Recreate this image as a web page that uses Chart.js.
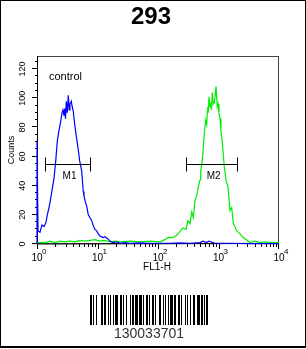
<!DOCTYPE html>
<html>
<head>
<meta charset="utf-8">
<script src="https://cdn.jsdelivr.net/npm/chart.js@4.4.1/dist/chart.umd.min.js"></script>
<style>
  html, body { margin: 0; padding: 0; background: #fff; }
  canvas { display: block; }
</style>
</head>
<body>
<canvas id="flow" width="306" height="349"></canvas>
<script>
// FL1-H channel values and counts
const blueX = [1.0, 1.0, 1.04, 1.12, 1.21, 1.31, 1.41, 1.48, 1.58, 1.68, 1.79, 1.91, 2.04, 2.17, 2.31, 2.46, 2.59, 2.69, 2.79, 2.87, 2.96, 3.05, 3.17, 3.29, 3.41, 3.51, 3.69, 3.83, 3.98, 4.20, 4.46, 4.76, 5.08, 5.48, 5.82, 5.98, 6.29, 6.63, 7.04, 7.52, 8.02, 8.52, 9.09, 9.70, 10.3, 11.0, 12.3, 13.3, 14.9, 16.1, 18.0, 21.0, 23.5, 28.5, 34.5, 50.4, 73.8, 108, 158, 231, 338, 495, 555, 621, 697, 875, 1549, 3319, 10000];
const blueY = [0, 71, 9, 8, 13, 12, 15, 20, 25, 31, 38, 45, 57, 71, 78, 84, 90, 92, 88, 93, 86, 98, 90, 102, 92, 96, 98, 94, 91, 82, 74, 66, 57, 50, 36, 33, 29, 26, 20, 18, 16, 12.5, 10, 9, 7, 5.5, 4.4, 5, 3.5, 2, 1, 1.5, 0.5, 1, 0.5, 0.8, 0.5, 0.5, 0.5, 0.8, 0.5, 1, 2, 1, 2, 0.5, 0.5, 0.3, 0.3];

const greenX = [1.0, 1.36, 1.64, 1.98, 2.40, 2.90, 3.51, 4.25, 5.14, 6.22, 7.52, 9.09, 11.0, 13.3, 16.1, 19.4, 23.5, 34.5, 50.4, 73.8, 108, 130, 147, 168, 191, 214, 259, 290, 313, 338, 361, 383, 409, 436, 464, 495, 508, 548, 583, 614, 638, 662, 678, 697, 724, 743, 766, 790, 820, 853, 882, 910, 955, 988, 1019, 1059, 1099, 1172, 1247, 1330, 1436, 1549, 1652, 1757, 1874, 2000, 2266, 2570, 2924, 3319, 4012, 4852, 5868, 7096, 10000];
const greenY = [1, 1, 2, 1, 2, 1.5, 2, 1.5, 2.5, 2, 2.5, 3, 2, 2.5, 1.5, 2, 1.5, 2, 1.5, 2, 1.5, 3, 4.5, 4.4, 5, 7, 11, 10, 16, 14, 22, 18, 30, 33, 39, 44, 50, 60, 76, 85, 82, 94, 90, 101, 94, 97, 92, 104, 96, 97, 102, 108, 94, 96, 90, 86, 78, 67, 53, 44, 39, 23, 25, 14, 12, 9, 7, 4.4, 2.8, 1, 2, 1, 1.5, 1, 1];

const yTicks = [0, 20, 40, 60, 80, 100, 120];
const xTicks = [1, 10, 100, 1000, 10000];
const xExponents = ['0', '1', '2', '3', '4'];

// gates
const markerNames = ['M1', 'M2'];
const markerStart = [1.36, 290];
const markerEnd = [7.5, 2040];
const markerLevel = [55, 55];

const barcodeBars = [2,1,1,2,1,4, 2,1,2,2,1,1, 1,2,1,1,3,2, 2,1,1,2,1,3, 1,1,2,1,3,1, 3,1,1,2,2,1, 1,2,2,1,1,3, 2,2,1,1,1,2, 1,1,3,1,2,2, 2,1,1,3,1,1, 1,2,1,2,2,2, 3,1,2,1,1,1, 2];
const barcodeText = '130033701';

const FONT = '"Liberation Sans", Arial, sans-serif';

const decor = {
  id: 'decor',
  beforeDatasetsDraw(chart) {
    const { ctx, chartArea: a } = chart;
    ctx.save();
    ctx.strokeStyle = '#444';
    ctx.lineWidth = 1;
    ctx.strokeRect(a.left + 0.5, a.top + 0.5, a.right - a.left - 1, a.bottom - a.top - 1);
    ctx.strokeStyle = '#000';
    ctx.beginPath();
    ctx.moveTo(a.left + 0.5, a.top);
    ctx.lineTo(a.left + 0.5, a.bottom);
    ctx.lineTo(a.right, a.bottom - 0.5);
    ctx.stroke();
    ctx.restore();
  },
  afterDraw(chart) {
    const { ctx, chartArea: a, scales: { x, y } } = chart;
    ctx.save();
    ctx.strokeStyle = '#000';
    ctx.fillStyle = '#000';
    ctx.lineWidth = 1;

    // y ticks
    ctx.beginPath();
    for (let v = 0; v <= 125; v += 5) {
      const py = Math.round(y.getPixelForValue(v)) - 0.5;
      const len = v % 20 === 0 ? 5 : 2;
      ctx.moveTo(a.left - len, py);
      ctx.lineTo(a.left, py);
    }
    // x ticks
    for (let d = 0; d < 4; d++) {
      for (let m = 1; m <= 9; m++) {
        const px = Math.round(x.getPixelForValue(m * Math.pow(10, d))) + 0.5;
        const len = m === 1 ? 5 : 3;
        ctx.moveTo(px, a.bottom);
        ctx.lineTo(px, a.bottom + len);
      }
    }
    const pEnd = Math.round(x.getPixelForValue(10000)) - 0.5;
    ctx.moveTo(pEnd, a.bottom);
    ctx.lineTo(pEnd, a.bottom + 5);
    ctx.stroke();

    // y tick labels, rotated
    ctx.font = '9px ' + FONT;
    ctx.textAlign = 'center';
    ctx.textBaseline = 'middle';
    yTicks.forEach(v => {
      ctx.save();
      ctx.translate(23, y.getPixelForValue(v));
      ctx.rotate(-Math.PI / 2);
      ctx.fillText(String(v), 0, 0);
      ctx.restore();
    });

    // x tick labels 10^n
    ctx.textBaseline = 'alphabetic';
    xTicks.forEach((v, i) => {
      const px = x.getPixelForValue(v);
      ctx.font = '10px ' + FONT;
      ctx.textAlign = 'center';
      ctx.fillText('10', px, 261);
      ctx.font = '8px ' + FONT;
      ctx.textAlign = 'left';
      ctx.fillText(xExponents[i], px + 5, 254);
    });

    // axis titles
    ctx.font = '10px ' + FONT;
    ctx.textAlign = 'center';
    ctx.fillText('FL1-H', 157, 270);
    ctx.save();
    ctx.translate(12, 150);
    ctx.rotate(-Math.PI / 2);
    ctx.textBaseline = 'middle';
    ctx.font = '9px ' + FONT;
    ctx.fillText('Counts', 0, 0);
    ctx.restore();

    // title
    ctx.font = 'bold 24px ' + FONT;
    ctx.fillText('293', 151, 24);

    // control label
    ctx.font = '11px ' + FONT;
    ctx.textAlign = 'left';
    ctx.fillText('control', 49, 80);

    // markers
    ctx.beginPath();
    markerNames.forEach((name, i) => {
      const x0 = Math.round(x.getPixelForValue(markerStart[i])) + 0.5;
      const x1 = Math.round(x.getPixelForValue(markerEnd[i])) + 0.5;
      const py = Math.round(y.getPixelForValue(markerLevel[i])) + 0.5;
      ctx.moveTo(x0, py); ctx.lineTo(x1, py);
      ctx.moveTo(x0, py - 7); ctx.lineTo(x0, py + 7);
      ctx.moveTo(x1, py - 7); ctx.lineTo(x1, py + 7);
    });
    ctx.stroke();
    ctx.font = '10px ' + FONT;
    ctx.textAlign = 'center';
    markerNames.forEach((name, i) => {
      const mid = (x.getPixelForValue(markerStart[i]) + x.getPixelForValue(markerEnd[i])) / 2;
      ctx.fillText(name, mid + 2, y.getPixelForValue(markerLevel[i]) + 15);
    });

    // barcode
    let bx = 90;
    barcodeBars.forEach((w, i) => {
      if (i % 2 === 0) ctx.fillRect(bx, 295, w, 30);
      bx += w;
    });
    ctx.fillStyle = '#333';
    ctx.font = '14px ' + FONT;
    ctx.textAlign = 'center';
    ctx.fillText(barcodeText, 149, 338);

    // outer border
    ctx.strokeStyle = '#000';
    ctx.strokeRect(0.5, 0.5, 305, 346);
    ctx.fillStyle = '#000';
    ctx.fillRect(0, 346, 306, 2);
    ctx.restore();
  }
};

new Chart(document.getElementById('flow'), {
  type: 'scatter',
  data: {
    datasets: [
      {
        label: 'control',
        data: blueX.map((v, i) => ({ x: v, y: blueY[i] })),
        borderColor: '#0000ff',
        borderWidth: 1.2,
        showLine: true,
        pointRadius: 0,
        clip: 2,
        order: 0
      },
      {
        label: '293',
        data: greenX.map((v, i) => ({ x: v, y: greenY[i] })),
        borderColor: '#00ee00',
        borderWidth: 1.2,
        showLine: true,
        pointRadius: 0,
        clip: 2,
        order: 1
      }
    ]
  },
  options: {
    responsive: false,
    animation: false,
    devicePixelRatio: 1,
    layout: { padding: { left: 37, top: 56, right: 27, bottom: 105 } },
    scales: {
      x: { type: 'logarithmic', min: 1, max: 10000, display: false },
      y: { type: 'linear', min: 0, max: 129, display: false }
    },
    plugins: { legend: { display: false }, tooltip: { enabled: false } }
  },
  plugins: [decor]
});
</script>
</body>
</html>
